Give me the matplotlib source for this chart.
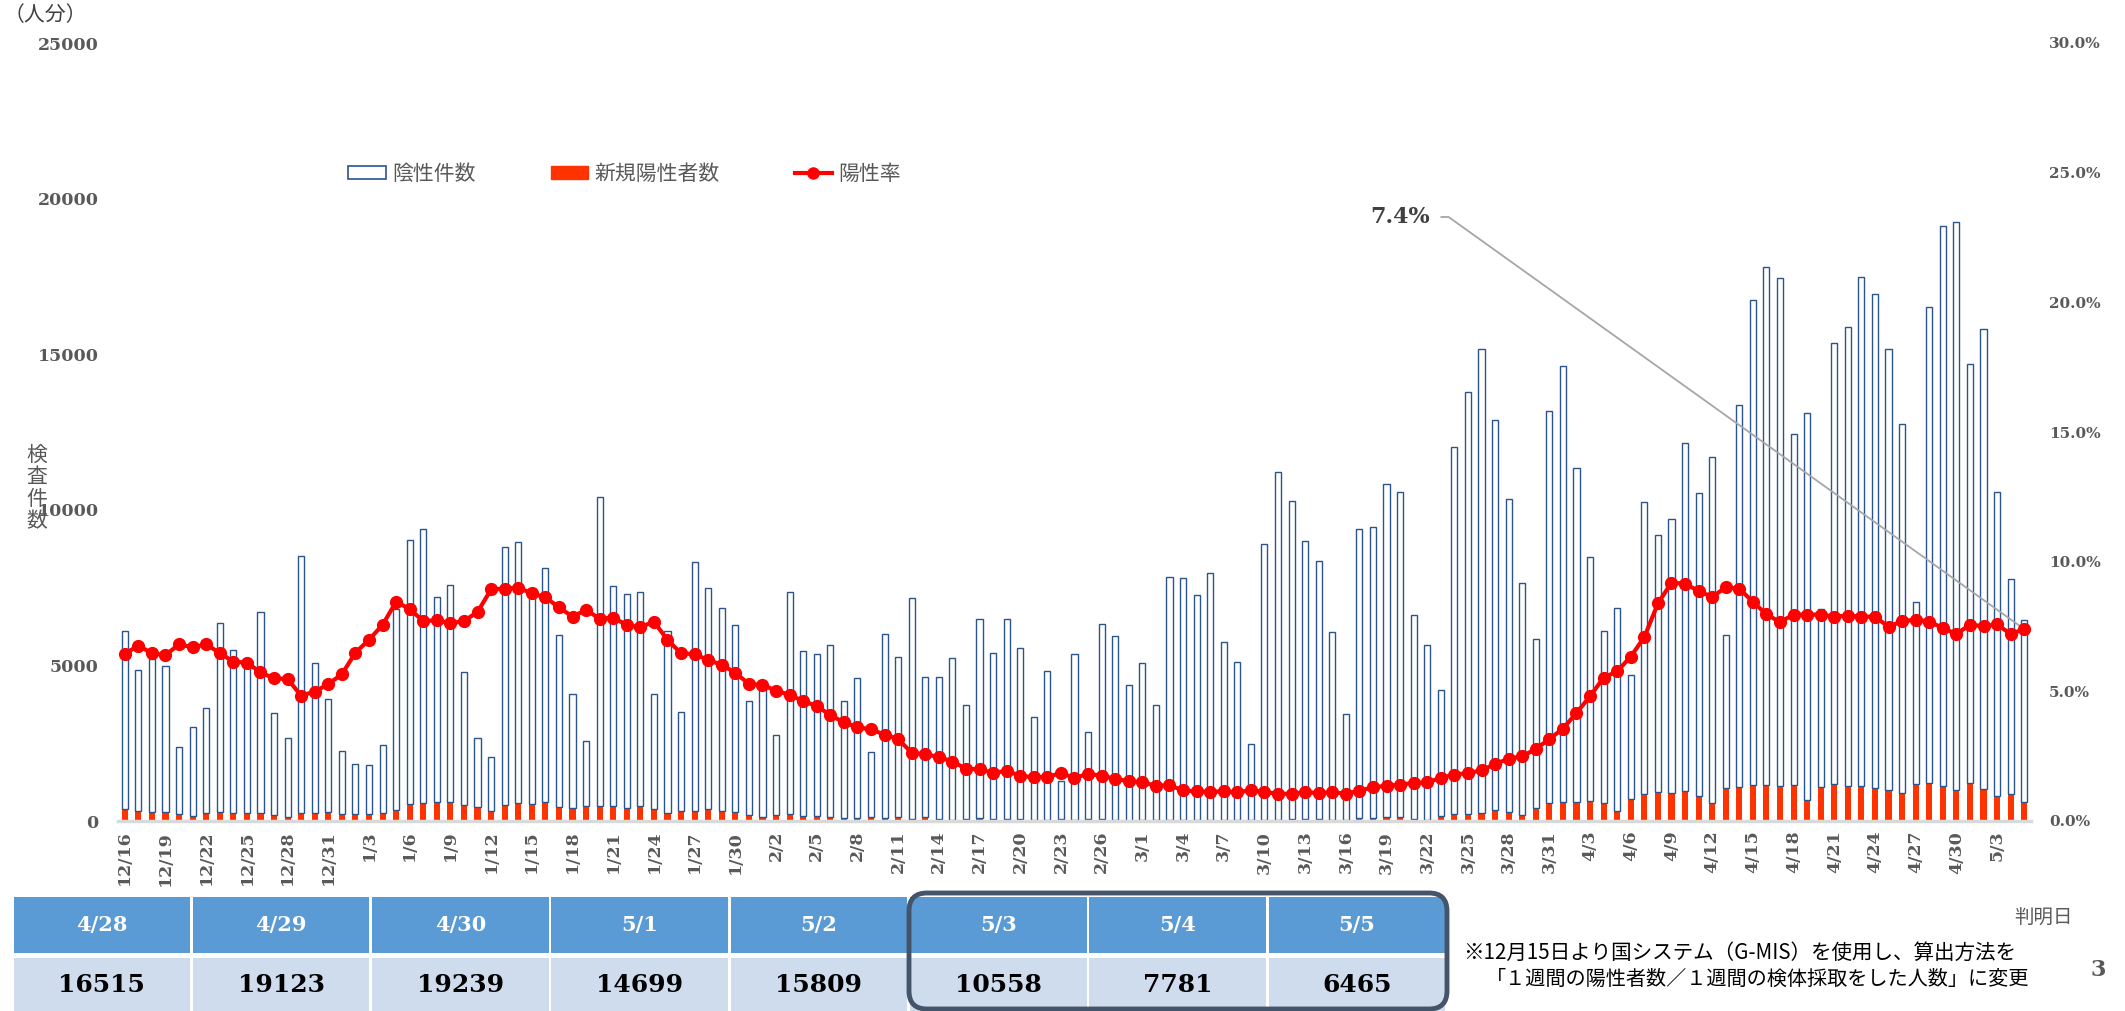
import numpy as np
import pandas as pd
import matplotlib
matplotlib.use('Agg')
import matplotlib.pyplot as plt
from matplotlib.patches import Patch, Rectangle, FancyBboxPatch
from matplotlib.lines import Line2D

plt.rcParams['font.family'] = ['Noto Sans CJK JP', 'DejaVu Sans']

# ---- data ----
dates = pd.date_range('2020-12-16', '2021-05-05')

# total tests per day (陰性件数 + 新規陽性者数)
tests_dec = [6100, 4850, 5200, 4990, 2370, 3030, 3640, 6350, 5510, 5200, 6720, 3470, 2670, 8500, 5090, 3910]
tests_jan = [2260, 1840, 1790, 2440, 6800, 9040, 9380, 7200, 7580, 4800, 2680, 2070, 8790, 8970, 7300, 8120,
             5970, 4090, 2570, 10400, 7550, 7280, 7350, 4080, 6120, 3490, 8310, 7500, 6860, 6290, 3860]
tests_feb = [4500, 2750, 7360, 5470, 5370, 5650, 3840, 4600, 2230, 6020, 5280, 7180, 4620, 4630, 5250, 3740,
             6500, 5410, 6480, 5550, 3350, 4820, 1300, 5380, 2850, 6340, 5930, 4370]
tests_mar = [5080, 3740, 7840, 7800, 7260, 7960, 5740, 5100, 2490, 8900, 11220, 10290, 9010, 8370, 6070, 3450,
             9390, 9450, 10840, 10570, 6620, 5670, 4200, 12020, 13770, 15180, 12890, 10360, 7640, 5860, 13170]
tests_apr = [14630, 11350, 8480, 6090, 6830, 4690, 10240, 9190, 9720, 12160, 10550, 11690, 5980, 13370, 16740,
             17790, 17450, 12450, 13100, 6820, 15370, 15860, 17480, 16950, 15180, 12760, 7050, 16515, 19123, 19239]
tests_may = [14699, 15809, 10558, 7781, 6465]

pos_dec = [375, 310, 280, 280, 215, 150, 257, 280, 257, 268, 268, 203, 118, 268, 268, 280]
pos_jan = [225, 214, 214, 257, 353, 535, 578, 621, 600, 514, 450, 332, 503, 568, 535, 600,
           439, 407, 482, 471, 471, 418, 482, 396, 246, 310, 321, 375, 310, 300, 182]
pos_feb = [139, 182, 214, 171, 171, 139, 86, 86, 118, 86, 118, 54, 118, 64, 32, 64,
           107, 54, 54, 54, 21, 21, 64, 21, 54, 54, 21, 10]
pos_mar = [21, 32, 43, 32, 21, 32, 32, 21, 43, 43, 43, 64, 75, 54, 21, 32,
           107, 107, 118, 118, 54, 43, 150, 226, 226, 266, 360, 293, 186, 413, 586]
pos_apr = [599, 599, 639, 573, 320, 692, 852, 932, 905, 972, 799, 586, 1065, 1090, 1166,
           1166, 1122, 1166, 679, 1107, 1196, 1137, 1122, 1063, 1004, 886, 1181, 1211, 1137, 1004]
pos_may = [1225, 1019, 812, 856, 620]

# positive rate (%)
rate_dec = [6.45, 6.76, 6.47, 6.40, 6.81, 6.70, 6.81, 6.48, 6.14, 6.11, 5.73, 5.50, 5.48, 4.83, 4.99, 5.28]
rate_jan = [5.66, 6.49, 6.99, 7.56, 8.46, 8.17, 7.71, 7.74, 7.62, 7.71, 8.06, 8.93, 8.96, 9.00, 8.78, 8.62,
            8.24, 7.88, 8.14, 7.80, 7.84, 7.56, 7.47, 7.69, 6.98, 6.47, 6.43, 6.21, 6.02, 5.72, 5.28]
rate_feb = [5.24, 5.03, 4.86, 4.63, 4.43, 4.09, 3.80, 3.62, 3.53, 3.33, 3.16, 2.63, 2.57, 2.47, 2.29, 2.02,
            1.99, 1.86, 1.93, 1.75, 1.68, 1.71, 1.84, 1.67, 1.81, 1.75, 1.62, 1.54]
rate_mar = [1.50, 1.35, 1.38, 1.18, 1.14, 1.13, 1.14, 1.11, 1.18, 1.12, 1.05, 1.05, 1.11, 1.08, 1.11, 1.05,
            1.17, 1.30, 1.36, 1.40, 1.47, 1.49, 1.66, 1.79, 1.85, 1.95, 2.20, 2.40, 2.49, 2.78, 3.16]
rate_apr = [3.56, 4.17, 4.81, 5.53, 5.77, 6.34, 7.09, 8.39, 9.19, 9.15, 8.87, 8.64, 9.01, 8.96, 8.45,
            7.97, 7.67, 7.96, 7.96, 7.96, 7.88, 7.92, 7.88, 7.88, 7.49, 7.71, 7.76, 7.69, 7.44, 7.21]
rate_may = [7.57, 7.51, 7.58, 7.21, 7.40]

tests = np.array(tests_dec + tests_jan + tests_feb + tests_mar + tests_apr + tests_may)
positives = np.array(pos_dec + pos_jan + pos_feb + pos_mar + pos_apr + pos_may)
rate = np.array(rate_dec + rate_jan + rate_feb + rate_mar + rate_apr + rate_may)
negatives = tests - positives
labels = [f'{d.month}/{d.day}' for d in dates]

n_table = 8  # last 8 days shown in the table

# ---- figure ----
W, H = 2125, 1011
SERIF = 'DejaVu Serif'
GRAY = '#595959'

fig = plt.figure(figsize=(W / 100, H / 100), dpi=100)


def px(x0, y0, x1, y1):
    return [x0 / W, 1 - y1 / H, (x1 - x0) / W, (y1 - y0) / H]


ax = fig.add_axes(px(118, 43, 2031, 821))
x = np.arange(len(tests))
ax.bar(x, positives, 0.45, color='#FF3300', zorder=2)
ax.bar(x, negatives, 0.45, bottom=positives, facecolor='white', edgecolor='#2A5490', lw=1.0, zorder=2)
ax.set_xlim(-0.5, len(x) - 0.5)
ax.set_ylim(0, 25000)
yt = np.arange(0, 25001, 5000)
ax.set_yticks(yt)
ax.set_yticklabels([str(v) for v in yt], fontfamily=SERIF, fontweight='bold', color=GRAY, fontsize=12.5)
ax.tick_params(axis='y', length=0, pad=14)
ax.set_xticks(x[::3])
ax.set_xticklabels(labels[::3], rotation=90, fontfamily=SERIF, fontweight='bold', color=GRAY, fontsize=12.5)
ax.tick_params(axis='x', length=0, pad=7)
for s in ax.spines.values():
    s.set_visible(False)
ax.axhline(0, color='#D9D9D9', lw=2.5, zorder=3, clip_on=False)

ax2 = ax.twinx()
ax2.plot(x, rate, color='#FF0000', lw=3, marker='o', ms=8.5, zorder=4)
ax2.set_ylim(0, 30)
rt = np.arange(0, 30.1, 5)
ax2.set_yticks(rt)
ax2.set_yticklabels([f'{v:.1f}%' for v in rt], fontfamily=SERIF, fontweight='bold', color=GRAY, fontsize=11)
ax2.tick_params(axis='y', length=0, pad=13)
for s in ax2.spines.values():
    s.set_visible(False)

# overlay axes in pixel coordinates for texts and table
ov = fig.add_axes([0, 0, 1, 1], zorder=5)
ov.set_xlim(0, W)
ov.set_ylim(H, 0)
ov.axis('off')
ov.patch.set_alpha(0)

ax2.annotate(f'{rate[-1]:.1f}%', xy=(x[-1], rate[-1]), xycoords='data',
             xytext=(1430, 217), textcoords=ov.transData, ha='right', va='center',
             fontfamily=SERIF, fontweight='bold', fontsize=16, color='#404040',
             arrowprops=dict(arrowstyle='-', color='#A6A6A6', lw=1.3, relpos=(1, 0.5),
                             shrinkA=6, shrinkB=0,
                             connectionstyle='angle,angleA=0,angleB=144.4,rad=0'))

handles = [Patch(facecolor='white', edgecolor='#2A5490', lw=1.2),
           Patch(facecolor='#FF3300', edgecolor='#FF3300'),
           Line2D([], [], color='#FF0000', lw=3, marker='o', ms=8)]
fig.legend(handles, ['陰性件数', '新規陽性者数', '陽性率'], loc='center left',
           bbox_to_anchor=(338 / W, 1 - 174 / H), ncol=3, frameon=False, fontsize=15,
           handlelength=1.8, handleheight=0.6, handletextpad=0.3, columnspacing=3.6,
           borderpad=0, labelcolor=GRAY)

ov.text(4, 15, '（人分）', fontsize=15, color='#404040', va='center')
ov.text(37, 488, '検\n査\n件\n数', ha='center', va='center', fontsize=15, color=GRAY, linespacing=1.0)
ov.text(2073, 918, '判明日', ha='right', va='center', fontsize=14, color=GRAY)
ov.text(2098, 970, '3', ha='center', va='center', fontfamily=SERIF, fontweight='bold', fontsize=16, color=GRAY)
ov.text(1463, 953, '※12月15日より国システム（G-MIS）を使用し、算出方法を', va='center', fontsize=14.8, color='black')
ov.text(1486, 979, '「１週間の陽性者数／１週間の検体採取をした人数」に変更', va='center', fontsize=14.5, color='black')

# table of the last days
for i, (d, v) in enumerate(zip(labels[-n_table:], tests[-n_table:])):
    x0 = 13.5 + i * 179.3
    w = 176.5
    ov.add_patch(Rectangle((x0, 897), w, 56, color='#5B9BD5', lw=0))
    ov.add_patch(Rectangle((x0, 958), w, 56, color='#CFDCEE', lw=0))
    ov.text(x0 + w / 2, 925, d, ha='center', va='center', color='white',
            fontfamily=SERIF, fontweight='bold', fontsize=15)
    ov.text(x0 + w / 2, 985, str(v), ha='center', va='center', color='black',
            fontfamily=SERIF, fontweight='bold', fontsize=18)

ov.add_patch(FancyBboxPatch((909, 893), 538, 116, boxstyle='round,pad=0,rounding_size=18',
                            fill=False, ec='#44546A', lw=3.5))

fig.savefig('out.png', dpi=100)
